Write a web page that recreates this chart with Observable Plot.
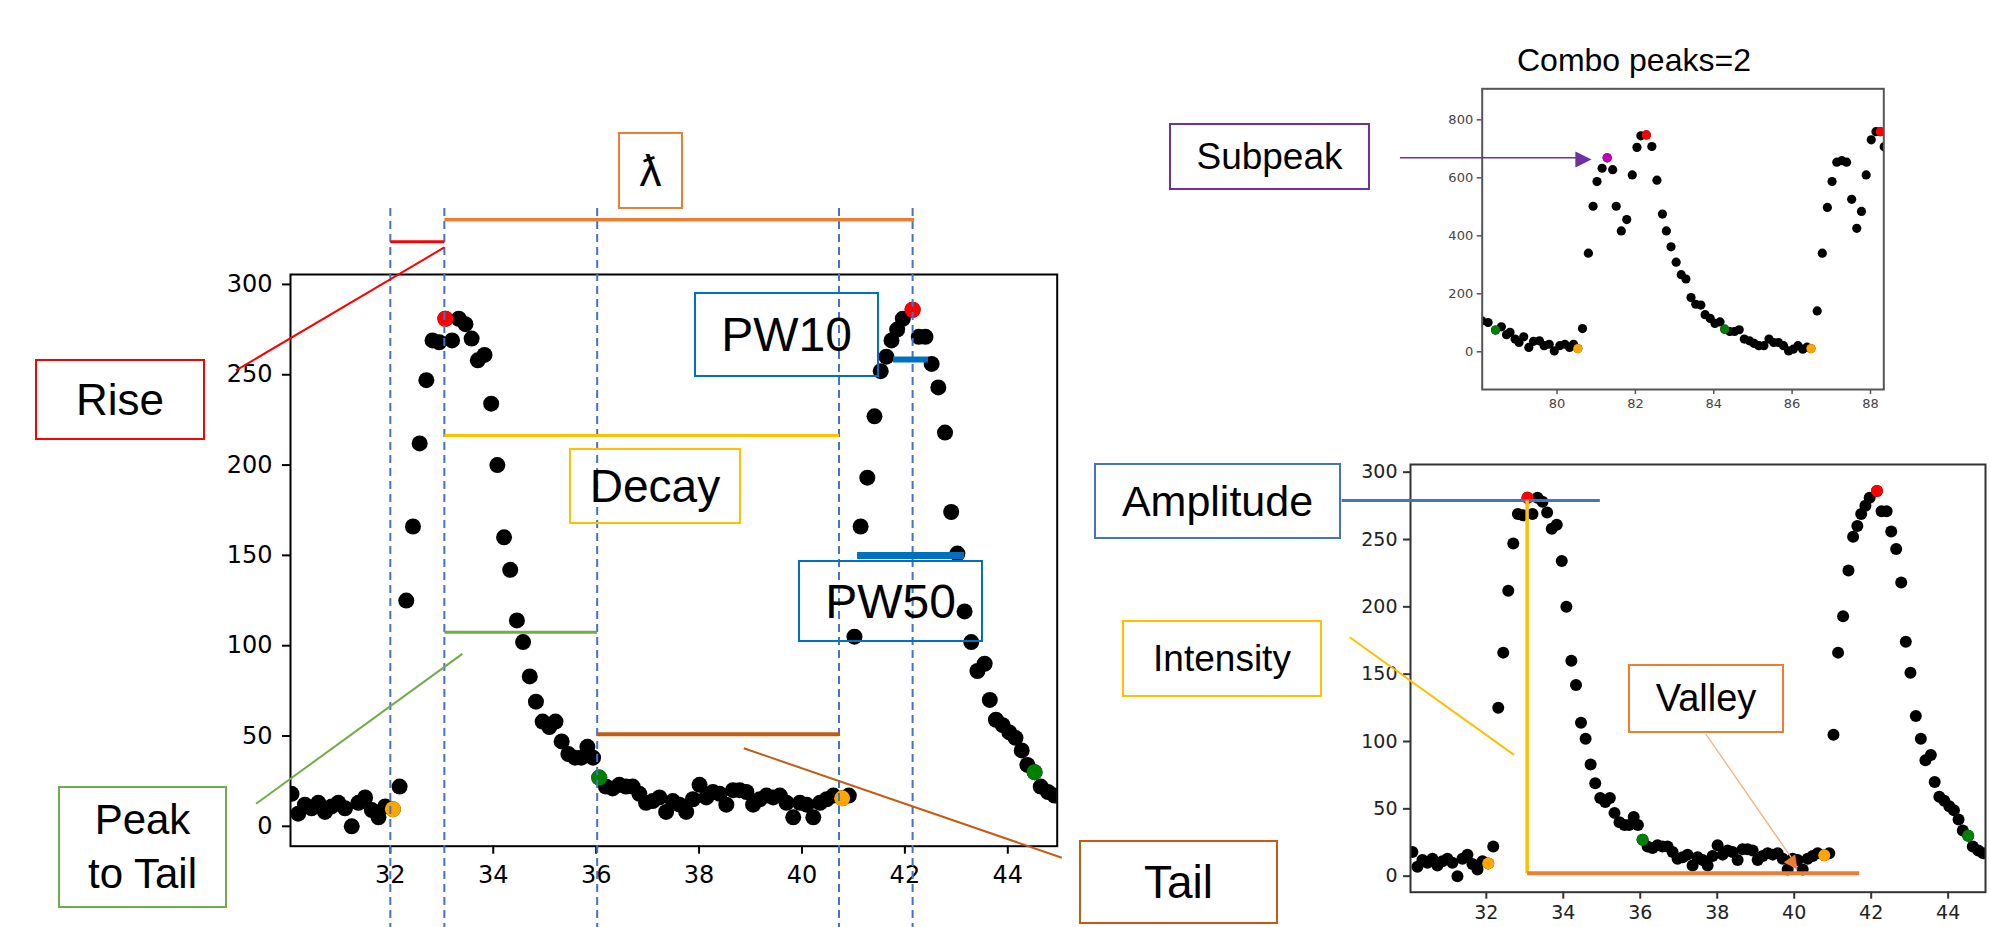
<!DOCTYPE html>
<html><head><meta charset="utf-8">
<script src="https://cdn.jsdelivr.net/npm/d3@7"></script>
<script src="https://cdn.jsdelivr.net/npm/@observablehq/plot@0.6"></script>
<style>
html,body{margin:0;padding:0;background:#fff;}
#page{position:relative;width:1990px;height:927px;overflow:hidden;background:#fff;}
.layer{position:absolute;}
.box{position:absolute;box-sizing:border-box;border:2.5px solid;display:flex;align-items:center;justify-content:center;text-align:center;font-family:"Liberation Sans",Arial,"DejaVu Sans",sans-serif;color:#000;background:transparent;}
.title{position:absolute;font-family:"Liberation Sans",Arial,sans-serif;font-size:32px;line-height:1;color:#000;white-space:nowrap;}
</style></head><body><div id="page"></div>
<script>
// ---------- main series (also shown in the lower-right panel) ----------
const mainX = [30.08,30.21,30.34,30.47,30.60,30.73,30.86,30.99,31.12,31.25,31.38,31.51,31.64,31.77,31.90,32.05,32.18,32.31,32.44,32.57,32.70,32.82,32.95,33.07,33.20,33.33,33.46,33.58,33.70,33.83,33.96,34.08,34.21,34.33,34.46,34.58,34.71,34.83,34.96,35.09,35.21,35.33,35.46,35.59,35.71,35.83,35.94,36.06,36.19,36.32,36.45,36.58,36.71,36.84,36.97,37.10,37.23,37.36,37.49,37.62,37.75,37.88,38.01,38.14,38.27,38.40,38.53,38.66,38.79,38.92,39.05,39.18,39.31,39.44,39.57,39.70,39.83,39.96,40.09,40.22,40.35,40.48,40.61,40.78,40.91,41.02,41.14,41.27,41.41,41.53,41.64,41.74,41.85,41.96,42.15,42.27,42.40,42.52,42.65,42.78,42.90,43.02,43.16,43.29,43.41,43.55,43.65,43.77,43.90,44.03,44.15,44.27,44.38,44.52,44.64,44.78,44.91];
const mainY = [18,7,12,10,13,8,11,13,10,0,13,16,9,5,11,9.5,22,125,166,212,247,269,268,281,269,281,278,270,258,261,234,200,160,142,114,102,83,69,58,55,58,47,40,38,38,44,38,27,22,21,23,22,22,18,13,14,16,8,14,12,8,15,23,16,19,18,12,20,20,19,12,15,17,16,17,13,5,13,12,5,13,15,17,15.5,17,105,166,193,227,252,260,269,275,281,286,271,271,256,243,218,174,151,119,102,86,90,70,59,56,52,49,42,34,30,22,19,17];
const peakX = [33.07, 42.15], peakY = [281, 286];
const startX = [32.05, 40.78], startY = [9.5, 15.5];
const endX = [36.06, 44.52], endY = [27, 30];
const mainXTicks = [32,34,36,38,40,42,44];
const mainYTicks = [0,50,100,150,200,250,300];

// ---------- combo panel series ----------
const comboX = [78.08,78.24,78.43,78.58,78.71,78.80,78.93,79.03,79.15,79.28,79.40,79.55,79.67,79.80,79.93,80.07,80.20,80.32,80.42,80.53,80.65,80.80,80.92,81.02,81.15,81.28,81.42,81.51,81.64,81.78,81.92,82.04,82.14,82.28,82.42,82.55,82.69,82.79,82.91,83.04,83.17,83.29,83.42,83.54,83.67,83.78,83.91,84.03,84.16,84.28,84.41,84.53,84.65,84.78,84.91,85.03,85.15,85.28,85.41,85.53,85.65,85.78,85.91,86.03,86.15,86.27,86.38,86.48,86.64,86.77,86.90,87.02,87.14,87.27,87.39,87.52,87.65,87.77,87.89,88.02,88.14,88.25,88.35];
const comboY = [107,101,75,86,59,67,44,32,52,15,36,38,21,26,3,21,26,15,26,11,80,340,502,587,633,669,628,502,417,456,610,705,745,748,708,592,475,417,362,309,266,251,187,164,161,128,115,98,103,78,70,70,76,44,38,29,21,21,44,32,32,21,3,9,21,9,16,11,141,340,498,587,654,659,654,526,426,484,610,731,759,759,707];
const comboPeakX = [82.28, 88.25], comboPeakY = [748, 759];
const comboStartX = [80.53, 86.48], comboStartY = [11, 11];
const comboEndX = [78.43, 84.28], comboEndY = [75, 78];
const subpeakX = [81.28], subpeakY = [669];
const comboXTicks = [80,82,84,86,88];
const comboYTicks = [0,200,400,600,800];

// ---------- annotation geometry (data units of each panel) ----------
const markerX = [32.0, 33.05, 36.02, 40.72, 42.15];   // dashed guides
const markerTop = 342, markerBottom = -60;
const mainSegments = [
  {name:"rise",   x1:32.0,  x2:33.05, y1:323.7, y2:323.7, color:"#FF0000", w:3},
  {name:"lambda", x1:33.05, x2:42.18, y1:335.8, y2:335.8, color:"#ED7D31", w:3.5},
  {name:"decay",  x1:33.05, x2:40.72, y1:216.4, y2:216.4, color:"#FFC000", w:3},
  {name:"p2t",    x1:33.05, x2:36.02, y1:107.5, y2:107.5, color:"#70AD47", w:3},
  {name:"tail",   x1:36.02, x2:40.72, y1:51,    y2:51,    color:"#C55A11", w:4},
  {name:"pw10",   x1:41.77, x2:42.45, y1:258.5, y2:258.5, color:"#0070C0", w:6},
  {name:"pw50",   x1:41.07, x2:43.15, y1:150,   y2:150,   color:"#0070C0", w:7},
  {name:"riseL",  x1:29.0,  x2:33.05, y1:252.4, y2:320.5, color:"#FF0000", w:2},
  {name:"p2tL",   x1:29.39, x2:33.40, y1:12.5,  y2:95.5,  color:"#70AD47", w:2},
  {name:"tailL",  x1:38.87, x2:45.05, y1:43.2,  y2:-17.4, color:"#C55A11", w:2}
];
const lowerSegments = [
  {name:"amp",   x1:28.24, x2:34.95, y1:279,   y2:279, color:"#4472C4", w:3},
  {name:"int",   x1:33.06, x2:33.06, y1:279,   y2:2.2, color:"#FFC000", w:3.5},
  {name:"valley",x1:33.06, x2:41.69, y1:2.2,   y2:2.2, color:"#ED7D31", w:4},
  {name:"intL",  x1:28.45, x2:32.72, y1:177.4, y2:90.1, color:"#FFC000", w:2},
  {name:"valL",  x1:37.70, x2:39.98, y1:105.7, y2:11.5, color:"#F4B183", w:1.3}
];
const valleyHead = [{x:40.0, y:9.6, angle:55}];
const comboSegments = [
  {name:"sub", x1:75.99, x2:80.5, y1:669, y2:669, color:"#7030A0", w:1.5}
];
const subHead = [{x:80.88, y:669}];

// ---------- helpers ----------
const page = document.getElementById("page");
function place(svg, left, top, width) {
  const d = document.createElement("div");
  d.className = "layer";
  d.style.left = left + "px"; d.style.top = top + "px"; d.style.width = width + "px";
  d.appendChild(svg); page.appendChild(d);
}
function segs(list) {
  return list.map(s => Plot.link([s], {x1:"x1", y1:"y1", x2:"x2", y2:"y2", stroke: s.color, strokeWidth: s.w}));
}
const mainPts = mainX.map((x, i) => ({x, y: mainY[i]}));
const pk = peakX.map((x, i) => ({x, y: peakY[i]}));
const st = startX.map((x, i) => ({x, y: startY[i]}));
const en = endX.map((x, i) => ({x, y: endY[i]}));

// ---------- main panel ----------
const mainPlot = Plot.plot({
  width: 1100, height: 927,
  marginLeft: 290, marginRight: 43.3, marginTop: 274, marginBottom: 81.3,
  x: {domain: [30.06, 44.96], label: null},
  y: {domain: [-11, 305.5], label: null},
  style: {background: "transparent", fontFamily: "DejaVu Sans", fontSize: "24px", color: "black", overflow: "visible"},
  marks: [
    Plot.dot(mainPts, {x: "x", y: "y", r: 8, fill: "black", clip: true}),
    Plot.dot(pk, {x: "x", y: "y", r: 8, fill: "red", clip: true}),
    Plot.dot(st, {x: "x", y: "y", r: 8, fill: "orange", clip: true}),
    Plot.dot(en, {x: "x", y: "y", r: 8, fill: "green", clip: true}),
    Plot.frame({stroke: "black", strokeWidth: 2}),
    Plot.axisX({ticks: mainXTicks, tickSize: 8, tickPadding: 12, strokeWidth: 2, label: null}),
    Plot.axisY({ticks: mainYTicks, tickSize: 8, tickPadding: 10, strokeWidth: 2, label: null}),
    Plot.ruleX(markerX.map(x => ({x, y1: markerTop, y2: markerBottom})), {x: "x", y1: "y1", y2: "y2", stroke: "#4472C4", strokeWidth: 2, strokeDasharray: "8,5"}),
    ...segs(mainSegments)
  ]
});
place(mainPlot, 0, 0, 1100);

// ---------- lower-right panel ----------
const lowerPlot = Plot.plot({
  width: 690, height: 487,
  marginLeft: 110, marginRight: 5, marginTop: 24, marginBottom: 35.3,
  x: {domain: [30.03, 44.97], label: null},
  y: {domain: [-11.9, 305.7], label: null},
  style: {background: "transparent", fontFamily: "DejaVu Sans", fontSize: "19px", color: "#222", overflow: "visible"},
  marks: [
    Plot.dot(mainPts, {x: "x", y: "y", r: 6, fill: "black", clip: true}),
    Plot.dot(pk, {x: "x", y: "y", r: 6, fill: "red", clip: true}),
    Plot.dot(st, {x: "x", y: "y", r: 6, fill: "orange", clip: true}),
    Plot.dot(en, {x: "x", y: "y", r: 6, fill: "green", clip: true}),
    Plot.frame({stroke: "#333", strokeWidth: 2}),
    Plot.axisX({ticks: mainXTicks, tickSize: 7, tickPadding: 6, stroke: "#333", strokeWidth: 2, label: null}),
    Plot.axisY({ticks: mainYTicks, tickSize: 7, tickPadding: 6, stroke: "#333", strokeWidth: 2, label: null}),
    ...segs(lowerSegments),
    Plot.text(valleyHead, {x: "x", y: "y", text: () => "\u25B6", rotate: d => d.angle, fill: "#ED7D31", fontSize: 18, textAnchor: "middle"})
  ]
});
place(lowerPlot, 1300, 440, 690);

// ---------- combo panel ----------
const cPts = comboX.map((x, i) => ({x, y: comboY[i]}));
const cPk = comboPeakX.map((x, i) => ({x, y: comboPeakY[i]}));
const cSt = comboStartX.map((x, i) => ({x, y: comboStartY[i]}));
const cEn = comboEndX.map((x, i) => ({x, y: comboEndY[i]}));
const cSub = subpeakX.map((x, i) => ({x, y: subpeakY[i]}));
const comboPlot = Plot.plot({
  width: 520, height: 430,
  marginLeft: 91.7, marginRight: 26.7, marginTop: 88.3, marginBottom: 41,
  x: {domain: [78.09, 88.34], label: null},
  y: {domain: [-130, 907], label: null},
  style: {background: "transparent", fontFamily: "DejaVu Sans", fontSize: "13px", color: "#444", overflow: "visible"},
  marks: [
    Plot.dot(cPts, {x: "x", y: "y", r: 4.6, fill: "black", clip: true}),
    Plot.dot(cPk, {x: "x", y: "y", r: 4.6, fill: "red", clip: true}),
    Plot.dot(cSt, {x: "x", y: "y", r: 4.6, fill: "orange", clip: true}),
    Plot.dot(cEn, {x: "x", y: "y", r: 4.6, fill: "green", clip: true}),
    Plot.dot(cSub, {x: "x", y: "y", r: 4.6, fill: "#BF00BF", clip: true}),
    Plot.frame({stroke: "#555", strokeWidth: 2}),
    Plot.axisX({ticks: comboXTicks, tickSize: 5, tickPadding: 4, stroke: "#555", strokeWidth: 1.5, label: null}),
    Plot.axisY({ticks: comboYTicks, tickSize: 5, tickPadding: 4, stroke: "#555", strokeWidth: 1.5, label: null}),
    ...segs(comboSegments),
    Plot.text(subHead, {x: "x", y: "y", text: () => "\u25B6", fill: "#7030A0", fontSize: 21, textAnchor: "end"})
  ]
});
place(comboPlot, 1390, 0, 520);

// ---------- labelled boxes ----------
const boxes = [
  {text:"\u019B", left:618, top:132, w:65, h:77, color:"#ED7D31", size:44},
  {text:"Rise", left:35, top:359, w:170, h:81, color:"#FF0000", size:44},
  {text:"Peak<br>to Tail", left:58, top:786, w:169, h:122, color:"#70AD47", size:42, lh:"54px"},
  {text:"Decay", left:569, top:448, w:172, h:76, color:"#FFC000", size:46},
  {text:"PW10", left:694, top:292, w:185, h:85, color:"#0070C0", size:48},
  {text:"PW50", left:798, top:560, w:185, h:82, color:"#0070C0", size:48},
  {text:"Tail", left:1079, top:840, w:199, h:84, color:"#C55A11", size:46},
  {text:"Amplitude", left:1094, top:463, w:247, h:76, color:"#4472C4", size:43},
  {text:"Intensity", left:1122, top:620, w:200, h:77, color:"#FFC000", size:37},
  {text:"Valley", left:1628, top:664, w:156, h:69, color:"#ED7D31", size:38},
  {text:"Subpeak", left:1169, top:123, w:201, h:67, color:"#7030A0", size:37}
];
for (const b of boxes) {
  const d = document.createElement("div");
  d.className = "box";
  Object.assign(d.style, {left: b.left + "px", top: b.top + "px", width: b.w + "px", height: b.h + "px",
    borderColor: b.color, fontSize: b.size + "px", lineHeight: b.lh || "normal"});
  d.innerHTML = b.text;
  page.appendChild(d);
}
const t = document.createElement("div");
t.className = "title";
t.textContent = "Combo peaks=2";
t.style.left = "1517px"; t.style.top = "44px";
page.appendChild(t);
</script></body></html>
